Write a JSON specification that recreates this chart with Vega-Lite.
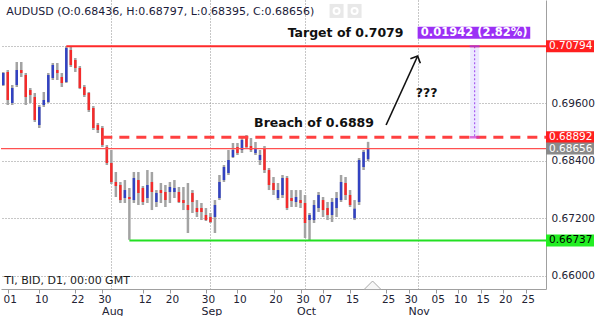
{
  "$schema": "https://vega.github.io/schema/vega-lite/v6.json",
  "width": 545,
  "height": 289,
  "padding": 0,
  "background": "white",
  "config": {"view": {"stroke": null}, "font": "DejaVu Sans"},
  "datasets": {
    "candles": [
      {"date":"2019-06-28","open":0.69985,"high":0.70257,"low":0.69964,"close":0.70236},
      {"date":"2019-07-01","open":0.70257,"high":0.70298,"low":0.69567,"close":0.69671},
      {"date":"2019-07-02","open":0.69609,"high":0.69985,"low":0.69567,"close":0.69922},
      {"date":"2019-07-03","open":0.69985,"high":0.70466,"low":0.69943,"close":0.70298},
      {"date":"2019-07-04","open":0.70298,"high":0.70466,"low":0.70152,"close":0.70236},
      {"date":"2019-07-05","open":0.70194,"high":0.70236,"low":0.69567,"close":0.69734},
      {"date":"2019-07-08","open":0.6988,"high":0.69922,"low":0.69609,"close":0.69776},
      {"date":"2019-07-09","open":0.69734,"high":0.69818,"low":0.69212,"close":0.69253},
      {"date":"2019-07-10","open":0.69149,"high":0.69567,"low":0.69086,"close":0.69525},
      {"date":"2019-07-11","open":0.69567,"high":0.69839,"low":0.69525,"close":0.69671},
      {"date":"2019-07-12","open":0.6963,"high":0.70236,"low":0.69609,"close":0.70194},
      {"date":"2019-07-15","open":0.70131,"high":0.70445,"low":0.70089,"close":0.70403},
      {"date":"2019-07-16","open":0.70298,"high":0.70445,"low":0.70089,"close":0.70236},
      {"date":"2019-07-17","open":0.70152,"high":0.70236,"low":0.69943,"close":0.70027},
      {"date":"2019-07-18","open":0.70048,"high":0.70794,"low":0.70027,"close":0.70758},
      {"date":"2019-07-19","open":0.70716,"high":0.70779,"low":0.70361,"close":0.70403},
      {"date":"2019-07-22","open":0.70507,"high":0.70549,"low":0.70257,"close":0.7034},
      {"date":"2019-07-23","open":0.7034,"high":0.70382,"low":0.699,"close":0.69922},
      {"date":"2019-07-24","open":0.69943,"high":0.69985,"low":0.69734,"close":0.69776},
      {"date":"2019-07-25","open":0.69818,"high":0.69839,"low":0.69421,"close":0.69462},
      {"date":"2019-07-26","open":0.69504,"high":0.69546,"low":0.69044,"close":0.69086},
      {"date":"2019-07-29","open":0.69149,"high":0.69191,"low":0.68982,"close":0.69044},
      {"date":"2019-07-30","open":0.69086,"high":0.69128,"low":0.68689,"close":0.68731},
      {"date":"2019-07-31","open":0.68689,"high":0.68731,"low":0.68313,"close":0.68355},
      {"date":"2019-08-01","open":0.68355,"high":0.68626,"low":0.67916,"close":0.67958},
      {"date":"2019-08-02","open":0.67958,"high":0.68167,"low":0.67644,"close":0.67874},
      {"date":"2019-08-05","open":0.67895,"high":0.67958,"low":0.67519,"close":0.67581},
      {"date":"2019-08-06","open":0.67623,"high":0.67999,"low":0.67519,"close":0.6779},
      {"date":"2019-08-07","open":0.67644,"high":0.67832,"low":0.6675,"close":0.67602},
      {"date":"2019-08-08","open":0.67581,"high":0.68167,"low":0.67519,"close":0.68041},
      {"date":"2019-08-09","open":0.67999,"high":0.68167,"low":0.67477,"close":0.67728},
      {"date":"2019-08-12","open":0.67832,"high":0.67874,"low":0.67477,"close":0.6754},
      {"date":"2019-08-13","open":0.67623,"high":0.68208,"low":0.67519,"close":0.67895},
      {"date":"2019-08-14","open":0.67958,"high":0.68167,"low":0.67372,"close":0.67749},
      {"date":"2019-08-15","open":0.6754,"high":0.6779,"low":0.67435,"close":0.67728},
      {"date":"2019-08-16","open":0.6779,"high":0.67937,"low":0.67519,"close":0.67728},
      {"date":"2019-08-19","open":0.67749,"high":0.67895,"low":0.67435,"close":0.67581},
      {"date":"2019-08-20","open":0.67749,"high":0.67958,"low":0.67519,"close":0.67853},
      {"date":"2019-08-21","open":0.67749,"high":0.67999,"low":0.67623,"close":0.67832},
      {"date":"2019-08-22","open":0.67749,"high":0.67853,"low":0.67519,"close":0.6754},
      {"date":"2019-08-23","open":0.67581,"high":0.67853,"low":0.67372,"close":0.67519},
      {"date":"2019-08-26","open":0.67477,"high":0.67937,"low":0.66892,"close":0.67372},
      {"date":"2019-08-27","open":0.67728,"high":0.6779,"low":0.6731,"close":0.6754},
      {"date":"2019-08-28","open":0.67414,"high":0.67581,"low":0.67226,"close":0.67331},
      {"date":"2019-08-29","open":0.67414,"high":0.67519,"low":0.67163,"close":0.67331},
      {"date":"2019-08-30","open":0.67268,"high":0.67414,"low":0.67143,"close":0.67163},
      {"date":"2019-09-02","open":0.67226,"high":0.6731,"low":0.67101,"close":0.67122},
      {"date":"2019-09-03","open":0.67226,"high":0.67581,"low":0.66892,"close":0.67477},
      {"date":"2019-09-04","open":0.67623,"high":0.68104,"low":0.67581,"close":0.67958},
      {"date":"2019-09-05","open":0.67999,"high":0.68313,"low":0.67958,"close":0.68271},
      {"date":"2019-09-06","open":0.68146,"high":0.68626,"low":0.68104,"close":0.68417},
      {"date":"2019-09-09","open":0.6848,"high":0.68773,"low":0.68459,"close":0.68626},
      {"date":"2019-09-10","open":0.68689,"high":0.68773,"low":0.68522,"close":0.68564},
      {"date":"2019-09-11","open":0.68626,"high":0.68898,"low":0.68564,"close":0.68835},
      {"date":"2019-09-12","open":0.68877,"high":0.6894,"low":0.68668,"close":0.68689},
      {"date":"2019-09-13","open":0.6871,"high":0.68877,"low":0.68585,"close":0.68626},
      {"date":"2019-09-16","open":0.68564,"high":0.68794,"low":0.68522,"close":0.68647},
      {"date":"2019-09-17","open":0.68417,"high":0.68626,"low":0.68313,"close":0.68522},
      {"date":"2019-09-18","open":0.68668,"high":0.6871,"low":0.68146,"close":0.68208},
      {"date":"2019-09-19","open":0.68208,"high":0.6825,"low":0.6779,"close":0.67895},
      {"date":"2019-09-20","open":0.67937,"high":0.68062,"low":0.67686,"close":0.6779},
      {"date":"2019-09-23","open":0.67623,"high":0.67937,"low":0.67581,"close":0.6779},
      {"date":"2019-09-24","open":0.67686,"high":0.68104,"low":0.67623,"close":0.68041},
      {"date":"2019-09-25","open":0.68041,"high":0.68083,"low":0.67372,"close":0.67414},
      {"date":"2019-09-26","open":0.67623,"high":0.6779,"low":0.67435,"close":0.6756},
      {"date":"2019-09-27","open":0.6754,"high":0.6779,"low":0.67435,"close":0.67644},
      {"date":"2019-09-30","open":0.67581,"high":0.6779,"low":0.67414,"close":0.67519},
      {"date":"2019-10-01","open":0.67519,"high":0.67686,"low":0.66787,"close":0.67101},
      {"date":"2019-10-02","open":0.67163,"high":0.6731,"low":0.66737,"close":0.67268},
      {"date":"2019-10-03","open":0.67163,"high":0.67581,"low":0.67101,"close":0.67477},
      {"date":"2019-10-04","open":0.67414,"high":0.67749,"low":0.67331,"close":0.67686},
      {"date":"2019-10-07","open":0.67581,"high":0.67644,"low":0.67226,"close":0.67372},
      {"date":"2019-10-08","open":0.67414,"high":0.6754,"low":0.67163,"close":0.67268},
      {"date":"2019-10-09","open":0.67268,"high":0.67623,"low":0.67122,"close":0.6754},
      {"date":"2019-10-10","open":0.67414,"high":0.67749,"low":0.67226,"close":0.67623},
      {"date":"2019-10-11","open":0.67581,"high":0.68104,"low":0.6754,"close":0.67958},
      {"date":"2019-10-14","open":0.67937,"high":0.68062,"low":0.67581,"close":0.67686},
      {"date":"2019-10-15","open":0.67686,"high":0.6779,"low":0.67435,"close":0.67477},
      {"date":"2019-10-16","open":0.672,"high":0.67581,"low":0.67163,"close":0.674},
      {"date":"2019-10-17","open":0.6754,"high":0.68459,"low":0.67477,"close":0.68417},
      {"date":"2019-10-18","open":0.68271,"high":0.68626,"low":0.68208,"close":0.68585},
      {"date":"2019-10-21","open":0.68436,"high":0.68797,"low":0.68395,"close":0.68656}
    ],
    "notes": [
      {"date":"2019-10-14","price":0.70982,"text":"Target of 0.7079"},
      {"date":"2019-10-03","price":0.69113,"text":"Breach of 0.6889"},
      {"date":"2019-11-03","price":0.6974,"text":"???"}
    ],
    "levels": [
      {"price":0.70794,"label":"0.70794","kind":"target"},
      {"price":0.68892,"label":"0.68892","kind":"breach"},
      {"price":0.68656,"label":"0.68656","kind":"last"},
      {"price":0.66737,"label":"0.66737","kind":"support"}
    ]
  },
  "layer": [
    {
      "data": {"name": "candles"},
      "mark": {"type": "rule", "color": "#a3a3a3", "strokeWidth": 2.5},
      "encoding": {
        "x": {
          "field": "date", "type": "ordinal",
          "scale": {"type": "point", "padding": 0.5, "domain": ["2019-06-28","2019-07-01","2019-07-02","2019-07-03","2019-07-04","2019-07-05","2019-07-08","2019-07-09","2019-07-10","2019-07-11","2019-07-12","2019-07-15","2019-07-16","2019-07-17","2019-07-18","2019-07-19","2019-07-22","2019-07-23","2019-07-24","2019-07-25","2019-07-26","2019-07-29","2019-07-30","2019-07-31","2019-08-01","2019-08-02","2019-08-05","2019-08-06","2019-08-07","2019-08-08","2019-08-09","2019-08-12","2019-08-13","2019-08-14","2019-08-15","2019-08-16","2019-08-19","2019-08-20","2019-08-21","2019-08-22","2019-08-23","2019-08-26","2019-08-27","2019-08-28","2019-08-29","2019-08-30","2019-09-02","2019-09-03","2019-09-04","2019-09-05","2019-09-06","2019-09-09","2019-09-10","2019-09-11","2019-09-12","2019-09-13","2019-09-16","2019-09-17","2019-09-18","2019-09-19","2019-09-20","2019-09-23","2019-09-24","2019-09-25","2019-09-26","2019-09-27","2019-09-30","2019-10-01","2019-10-02","2019-10-03","2019-10-04","2019-10-07","2019-10-08","2019-10-09","2019-10-10","2019-10-11","2019-10-14","2019-10-15","2019-10-16","2019-10-17","2019-10-18","2019-10-21","2019-10-22","2019-10-23","2019-10-24","2019-10-25","2019-10-26","2019-10-27","2019-10-28","2019-10-29","2019-10-30","2019-10-31","2019-11-01","2019-11-02","2019-11-03","2019-11-04","2019-11-05","2019-11-06","2019-11-07","2019-11-08","2019-11-09","2019-11-10","2019-11-11","2019-11-12","2019-11-13","2019-11-14","2019-11-15","2019-11-16","2019-11-17","2019-11-18","2019-11-19","2019-11-20","2019-11-21","2019-11-22","2019-11-23","2019-11-24","2019-11-25","2019-11-26","2019-11-27","2019-11-28","2019-11-29"]},
          "axis": {
            "title": null,
            "labelAngle": 0,
            "values": ["2019-07-01","2019-07-10","2019-07-22","2019-07-30","2019-08-01","2019-08-12","2019-08-20","2019-08-30","2019-09-02","2019-09-10","2019-09-20","2019-09-30","2019-10-01","2019-10-07","2019-10-15","2019-10-25","2019-10-30","2019-11-01","2019-11-05","2019-11-10","2019-11-15","2019-11-20","2019-11-25"],
            "labelExpr": "indexof(['2019-08-01','2019-09-02','2019-10-01','2019-11-01'], datum.value) >= 0 ? ['Aug','Sep','Oct','Nov'][indexof(['2019-08-01','2019-09-02','2019-10-01','2019-11-01'], datum.value)] : substring(datum.value, 8, 10)",
            "labelAlign": "center",
            "labelBaseline": "top",
            "labelPadding": {"condition": {"test": "indexof(['2019-08-01','2019-09-02','2019-10-01','2019-11-01'], datum.value) >= 0", "value": 12}, "value": 1},
            "labelOffset": {"condition": {"test": "indexof(['2019-08-01','2019-09-02','2019-10-01','2019-11-01'], datum.value) >= 0", "value": 1}, "value": 2},
            "labelFontSize": {"condition": {"test": "indexof(['2019-08-01','2019-09-02','2019-10-01','2019-11-01'], datum.value) >= 0", "value": 11}, "value": 10.5},
            "tickOpacity": {"condition": {"test": "indexof(['2019-08-01','2019-09-02','2019-10-01','2019-11-01'], datum.value) >= 0", "value": 0}, "value": 1},
            "grid": true,
            "gridOpacity": {"condition": {"test": "indexof(['2019-08-01','2019-09-02','2019-10-01','2019-11-01'], datum.value) >= 0", "value": 1}, "value": 0},
            "gridDash": [1, 2],
            "gridColor": "#8f8f8f",
            "tickSize": 4,
            "tickColor": "#9a9a9a",
            "domainColor": "#a0a0a0",
            "labelColor": "#222233",
            "labelFont": "DejaVu Sans",
            "labelOverlap": false,
            "labelBound": false,
            "labelFlush": false,
            "zindex": 0
          }
        },
        "y": {
          "field": "low", "type": "quantitative",
          "scale": {"domain": [0.65722, 0.71761], "nice": false, "zero": false},
          "axis": {
            "title": null, "orient": "right",
            "values": [0.66, 0.672, 0.684, 0.696, 0.708],
            "labelExpr": "abs(datum.value - 0.708) < 0.000001 ? '' : format(datum.value, '.5f')",
            "grid": true, "gridDash": [1, 2], "gridColor": "#8f8f8f",
            "ticks": false, "labelPadding": 5,
            "labelFontSize": 10.5, "labelColor": "#222233", "labelFont": "DejaVu Sans",
            "domainColor": "#a0a0a0", "labelOverlap": false, "labelFlush": false,
            "zindex": 0
          }
        },
        "y2": {"field": "high"}
      }
    },
    {
      "data": {"name": "candles"},
      "mark": {"type": "rule", "strokeWidth": 2.5},
      "encoding": {
        "x": {"field": "date", "type": "ordinal"},
        "y": {"field": "open", "type": "quantitative"},
        "y2": {"field": "close"},
        "color": {"condition": {"test": "datum.close >= datum.open", "value": "#3242c2"}, "value": "#f42b2b"}
      }
    },
    {
      "data": {"values": [{}]},
      "mark": {"type": "rule", "color": "#ece9ff", "strokeWidth": 9, "xOffset": -1.5},
      "encoding": {
        "x": {"datum": "2019-11-14", "type": "ordinal"},
        "y": {"datum": 0.70794, "type": "quantitative"},
        "y2": {"datum": 0.68892}
      }
    },
    {
      "data": {"values": [{}]},
      "mark": {"type": "rule", "color": "#9b40ee", "strokeWidth": 1, "strokeDash": [2, 2], "xOffset": -1.5},
      "encoding": {
        "x": {"datum": "2019-11-14", "type": "ordinal"},
        "y": {"datum": 0.70794, "type": "quantitative"},
        "y2": {"datum": 0.68892}
      }
    },
    {
      "data": {"values": [{}]},
      "mark": {"type": "rule", "color": "#ff5050", "strokeWidth": 1.2},
      "encoding": {
        "y": {"datum": 0.68656, "type": "quantitative"}
      }
    },
    {
      "data": {"values": [{}]},
      "mark": {"type": "rule", "color": "#ff2a2a", "strokeWidth": 2},
      "encoding": {
        "x": {"datum": "2019-07-18", "type": "ordinal"},
        "x2": {"value": "width"},
        "y": {"datum": 0.70794, "type": "quantitative"}
      }
    },
    {
      "data": {"values": [{}]},
      "mark": {"type": "rule", "color": "#ff4040", "strokeWidth": 3, "strokeDash": [10, 7]},
      "encoding": {
        "x": {"datum": "2019-07-30", "type": "ordinal"},
        "x2": {"value": "width"},
        "y": {"datum": 0.68892, "type": "quantitative"}
      }
    },
    {
      "data": {"values": [{}]},
      "mark": {"type": "rule", "color": "#22e022", "strokeWidth": 2},
      "encoding": {
        "x": {"datum": "2019-08-07", "type": "ordinal"},
        "x2": {"value": "width"},
        "y": {"datum": 0.66737, "type": "quantitative"}
      }
    },
    {
      "data": {"values": [{}]},
      "mark": {"type": "tick", "orient": "horizontal", "color": "#9b30ff", "size": 10, "thickness": 2, "xOffset": -1.5},
      "encoding": {
        "x": {"datum": "2019-11-14", "type": "ordinal"},
        "y": {"datum": 0.70794, "type": "quantitative"}
      }
    },
    {
      "data": {"values": [{}]},
      "mark": {"type": "tick", "orient": "horizontal", "color": "#cc33cc", "size": 10, "thickness": 2.5, "xOffset": -1.5},
      "encoding": {
        "x": {"datum": "2019-11-14", "type": "ordinal"},
        "y": {"datum": 0.68892, "type": "quantitative"}
      }
    },
    {
      "data": {"values": [{}]},
      "mark": {"type": "rule", "color": "#111111", "strokeWidth": 1.6},
      "encoding": {
        "x": {"datum": "2019-10-25", "type": "ordinal"},
        "x2": {"datum": "2019-11-01"},
        "y": {"datum": 0.69149, "type": "quantitative"},
        "y2": {"datum": 0.70591}
      }
    },
    {
      "data": {"values": [{}]},
      "mark": {"type": "point", "shape": "M-1,1L0,0L1,1", "size": 120, "angle": 24.5, "filled": false, "stroke": "#111111", "strokeWidth": 1.6, "opacity": 1},
      "encoding": {
        "x": {"datum": "2019-11-01", "type": "ordinal"},
        "y": {"datum": 0.70591, "type": "quantitative"}
      }
    },
    {
      "data": {"name": "notes"},
      "mark": {"type": "text", "fontWeight": "bold", "fontSize": 12.5, "font": "DejaVu Sans", "color": "#111111", "align": "center", "baseline": "alphabetic"},
      "encoding": {
        "x": {"field": "date", "type": "ordinal"},
        "y": {"field": "price", "type": "quantitative"},
        "text": {"field": "text"}
      }
    },
    {
      "data": {"values": [{}]},
      "mark": {"type": "rule", "color": "#9b30f5", "strokeWidth": 12},
      "encoding": {
        "x": {"datum": "2019-11-01", "type": "ordinal"},
        "x2": {"datum": "2019-11-26"},
        "y": {"datum": 0.71076, "type": "quantitative"}
      }
    },
    {
      "data": {"values": [{}]},
      "mark": {"type": "text", "fontWeight": "bold", "fontSize": 11.5, "font": "DejaVu Sans", "color": "#ffffff", "align": "center", "baseline": "middle", "dx": -2},
      "encoding": {
        "x": {"datum": "2019-11-14", "type": "ordinal"},
        "y": {"datum": 0.71076, "type": "quantitative"},
        "text": {"value": "0.01942 (2.82%)"}
      }
    },
    {
      "data": {"values": [{}]},
      "mark": {"type": "text", "fontSize": 11, "font": "DejaVu Sans", "color": "#1b1b3a", "align": "left", "baseline": "alphabetic", "dx": 3},
      "encoding": {
        "x": {"datum": "2019-06-28", "type": "ordinal"},
        "y": {"datum": 0.71448, "type": "quantitative"},
        "text": {"value": "AUDUSD (O:0.68436, H:0.68797, L:0.68395, C:0.68656)"}
      }
    },
    {
      "data": {"values": [{"date": "2019-10-10"}, {"date": "2019-10-16"}]},
      "mark": {"type": "point", "shape": "square", "size": 196, "filled": true, "color": "#e8e8e8", "opacity": 1},
      "encoding": {
        "x": {"field": "date", "type": "ordinal"},
        "y": {"datum": 0.71532, "type": "quantitative"}
      }
    },
    {
      "data": {"values": [{"date": "2019-10-10"}, {"date": "2019-10-16"}]},
      "mark": {"type": "point", "shape": "circle", "size": 36, "filled": false, "stroke": "#ffffff", "strokeWidth": 2, "opacity": 1},
      "encoding": {
        "x": {"field": "date", "type": "ordinal"},
        "y": {"datum": 0.71532, "type": "quantitative"}
      }
    },
    {
      "data": {"values": [{}]},
      "mark": {"type": "text", "fontSize": 11, "font": "DejaVu Sans", "color": "#1b1b1b", "align": "left", "baseline": "alphabetic", "dx": 1},
      "encoding": {
        "x": {"datum": "2019-06-28", "type": "ordinal"},
        "y": {"datum": 0.65826, "type": "quantitative"},
        "text": {"value": "TI, BID, D1, 00:00 GMT"}
      }
    },
    {
      "data": {"values": [{}]},
      "mark": {"type": "point", "shape": "M-1,0.5L0,-0.5L1,0.5Z", "size": 289, "filled": true, "fill": "#f7f7f7", "stroke": "#a8a8a8", "strokeWidth": 1, "opacity": 1},
      "encoding": {
        "x": {"datum": "2019-10-22", "type": "ordinal"},
        "y": {"datum": 0.658, "type": "quantitative"}
      }
    },
    {
      "data": {"name": "levels"},
      "mark": {"type": "rect", "x2Offset": 48, "yOffset": -6, "y2Offset": 6},
      "encoding": {
        "x": {"value": "width"},
        "x2": {"value": "width"},
        "y": {"field": "price", "type": "quantitative"},
        "y2": {"field": "price"},
        "color": {"field": "kind", "type": "nominal", "scale": {"domain": ["target", "breach", "last", "support"], "range": ["#ff1f1f", "#ff1f1f", "#8a8a8a", "#22ee22"]}, "legend": null}
      }
    },
    {
      "data": {"name": "levels"},
      "mark": {"type": "text", "fontSize": 10.5, "font": "DejaVu Sans", "align": "left", "baseline": "middle", "dx": 3},
      "encoding": {
        "x": {"value": "width"},
        "y": {"field": "price", "type": "quantitative"},
        "text": {"field": "label"},
        "color": {"condition": {"test": "datum.kind === 'support'", "value": "#000000"}, "value": "#ffffff"}
      }
    }
  ]
}
